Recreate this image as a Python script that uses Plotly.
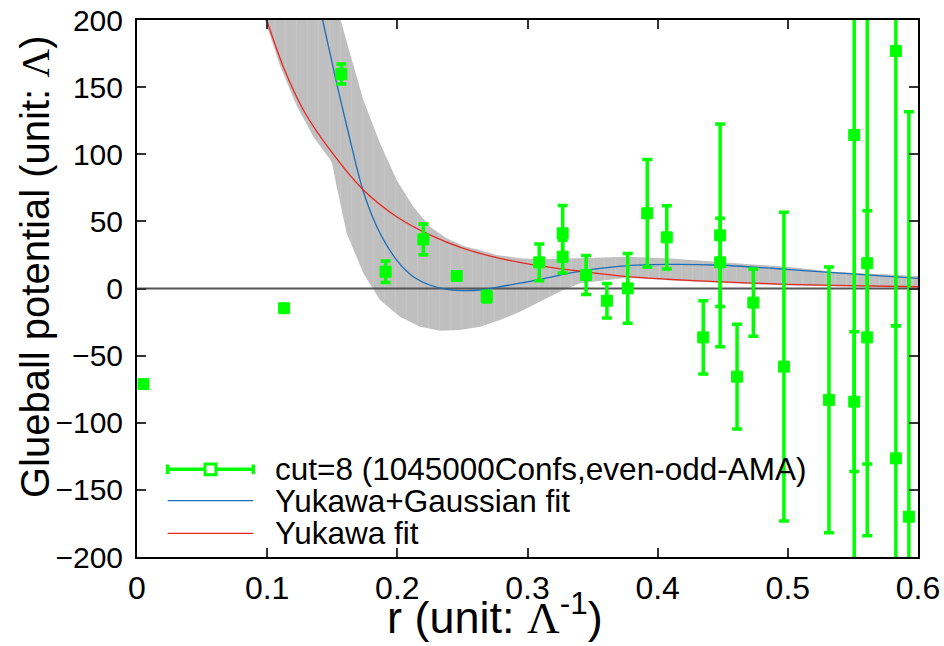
import plotly.graph_objects as go

# ---- measured glueball potential, cut=8 (1045000 configurations, even-odd AMA) ----
r_data = [0.005, 0.113, 0.157, 0.191, 0.220, 0.2456, 0.2687, 0.309, 0.327, 0.327,
          0.345, 0.361, 0.377, 0.392, 0.407, 0.435, 0.448, 0.448, 0.461, 0.4735,
          0.497, 0.5316, 0.551, 0.551, 0.561, 0.561, 0.583, 0.583, 0.593]
v_data = [-71.2, -14.7, 159.8, 12.5, 36.6, 9.3, -6.1, 19.5, 41.1, 23.7,
          10.1, -9.1, 0.1, 56.0, 38.1, -36.4, 39.6, 19.5, -65.7, -10.5,
          -58.2, -83.0, 114.3, -84.3, 18.8, -36.4, 176.9, -126.5, -170.0]
v_err = [1.5, 1.5, 7.5, 8.0, 11.5, 3.0, 4.0, 13.7, 20.8, 12.2,
         14.5, 12.8, 26.0, 40.0, 23.5, 27.3, 82.9, 32.9, 39.0, 25.0,
         115.0, 99.0, 330.0, 52.0, 203.0, 94.3, 204.6, 98.8, 301.7]

# ---- Yukawa+Gaussian fit curve ----
r_yg = [0.1426, 0.1534, 0.1637, 0.1739, 0.1867, 0.1995, 0.2123, 0.225, 0.238,
        0.2507, 0.2635, 0.2763, 0.302, 0.343, 0.3775, 0.407, 0.445, 0.499,
        0.535, 0.6]
v_yg = [200.0, 152.8, 110.6, 72.1, 41.1, 21.2, 8.8, 2.6, -0.6,
        -1.6, -1.1, 0.9, 5.3, 13.3, 17.0, 18.0, 17.5, 14.3,
        11.8, 7.6]

# ---- Yukawa fit curve ----
r_yuk = [0.0996, 0.1124, 0.1278, 0.1483, 0.1739, 0.1995, 0.225, 0.2507, 0.2763,
         0.309, 0.343, 0.377, 0.407, 0.4456, 0.4994, 0.5347, 0.6]
v_yuk = [200.0, 165.2, 133.0, 103.2, 73.4, 53.5, 39.9, 29.9, 23.0,
         17.0, 12.5, 8.8, 6.9, 5.1, 3.1, 2.4, 1.3]

# ---- combined error band of the two fits ----
band_lo_r = [0.0983, 0.1099, 0.1227, 0.1355, 0.1483, 0.1500, 0.1534, 0.1611, 0.1739,
             0.1867, 0.2021, 0.2174, 0.2328, 0.2482, 0.2635, 0.2789, 0.2943, 0.3097,
             0.325, 0.3404, 0.3762, 0.4018, 0.4456, 0.4994, 0.5347, 0.6]
band_lo_v = [200.0, 166.0, 136.0, 113.0, 96.0, 93.0, 75.8, 41.1, 11.3,
             -8.6, -21.0, -28.5, -31.4, -30.9, -28.5, -23.5, -17.3, -9.8,
             -2.3, 3.9, 8.0, 6.5, 4.3, 2.3, 1.6, 0.6]
band_hi_r = [0.6, 0.5347, 0.4994, 0.4456, 0.4072, 0.3772, 0.3426, 0.3096, 0.2942,
             0.2763, 0.2635, 0.2507, 0.2379, 0.225, 0.2123, 0.1995, 0.1867, 0.1739,
             0.1636, 0.1565]
band_hi_v = [9.3, 12.5, 16.2, 20.0, 22.5, 23.7, 22.5, 21.7, 22.5,
             25.0, 28.7, 31.7, 37.4, 46.0, 60.9, 80.8, 108.2, 140.4,
             175.2, 200.0]

legend_labels = ["cut=8 (1045000Confs,even-odd-AMA)", "Yukawa+Gaussian fit", "Yukawa fit"]

x_range = [0.0, 0.6]
y_range = [-200, 200]
x_ticks = [0.0, 0.1, 0.2, 0.3, 0.4, 0.5, 0.6]
x_tick_text = ["0", "0.1", "0.2", "0.3", "0.4", "0.5", "0.6"]
y_ticks = [-200, -150, -100, -50, 0, 50, 100, 150, 200]

GREEN = "#00ff00"
BLUE = "#1a6fb8"
RED = "#e8281e"
BAND = "#bfbfbf"
SANS = "Liberation Sans, Arial, sans-serif"
NARROW = "Liberation Sans Narrow, Liberation Sans, sans-serif"

fig = go.Figure()

# error band (drawn first, under everything), with faint vertical hatching
fig.add_trace(go.Scatter(
    x=band_lo_r + band_hi_r, y=band_lo_v + band_hi_v,
    fill="toself", fillcolor=BAND, mode="lines", line=dict(width=0),
    fillpattern=dict(shape="|", bgcolor=BAND, fgcolor="#cbcbcb", size=11, solidity=0.12),
    hoverinfo="skip", showlegend=False))

# zero line across the plotting range
fig.add_trace(go.Scatter(
    x=x_range, y=[0, 0], mode="lines", line=dict(color="#555555", width=2),
    hoverinfo="skip", showlegend=False))

fig.add_trace(go.Scatter(
    x=r_yg, y=v_yg, mode="lines", line=dict(color=BLUE, width=1.3, shape="spline", smoothing=0.8),
    name=legend_labels[1], showlegend=False))
fig.add_trace(go.Scatter(
    x=r_yuk, y=v_yuk, mode="lines", line=dict(color=RED, width=1.3, shape="spline", smoothing=0.8),
    name=legend_labels[2], showlegend=False))

fig.add_trace(go.Scatter(
    x=r_data, y=v_data, mode="markers", name=legend_labels[0], showlegend=False,
    marker=dict(symbol="square", size=11, color=GREEN, line=dict(color=GREEN, width=1)),
    error_y=dict(type="data", array=v_err, visible=True, color=GREEN, thickness=3.5, width=5),
    cliponaxis=True))

# ---- hand-placed legend in the lower-left corner of the plot ----
key_x0, key_x1 = 0.0393, 0.1489
key_xm = (key_x0 + key_x1) / 2
key_y = [0.1633, 0.1048, 0.0441]
text_x = 0.1738
shapes = []
# green key: bar with end caps and an open square
shapes.append(dict(type="line", xref="paper", yref="paper", x0=key_x0, x1=key_x1,
                   y0=key_y[0], y1=key_y[0], line=dict(color=GREEN, width=3.5)))
for kx in (key_x0, key_x1):
    shapes.append(dict(type="line", xref="paper", yref="paper", x0=kx, x1=kx,
                       y0=key_y[0] - 0.009, y1=key_y[0] + 0.009, line=dict(color=GREEN, width=3.5)))
shapes.append(dict(type="rect", xref="paper", yref="paper",
                   x0=key_xm - 0.0070, x1=key_xm + 0.0070,
                   y0=key_y[0] - 0.0100, y1=key_y[0] + 0.0100,
                   line=dict(color=GREEN, width=3), fillcolor="white"))
shapes.append(dict(type="line", xref="paper", yref="paper", x0=key_x0, x1=key_x1,
                   y0=key_y[1], y1=key_y[1], line=dict(color=BLUE, width=1.3)))
shapes.append(dict(type="line", xref="paper", yref="paper", x0=key_x0, x1=key_x1,
                   y0=key_y[2], y1=key_y[2], line=dict(color=RED, width=1.3)))

annotations = []
for label, ky in zip(legend_labels, key_y):
    annotations.append(dict(xref="paper", yref="paper", x=text_x, y=ky, text=label,
                            showarrow=False, xanchor="left", yanchor="middle",
                            font=dict(family=SANS, size=31.5, color="black")))

# axis titles
annotations.append(dict(
    xref="paper", yref="paper", x=0.458, y=-0.106,
    text='r (unit: <span style="font-family:Liberation Serif">Λ</span><sup>-1</sup>)',
    showarrow=False, xanchor="center", yanchor="middle",
    font=dict(family=NARROW, size=45, color="black")))
annotations.append(dict(
    xref="paper", yref="paper", x=-0.1306, y=0.54, textangle=-90,
    text='Glueball potential (unit: <span style="font-family:Liberation Serif">Λ</span>)',
    showarrow=False, xanchor="center", yanchor="middle",
    font=dict(family=SANS, size=40, color="black")))

fig.update_layout(
    width=944, height=646,
    margin=dict(l=137, r=26, t=20, b=89, autoexpand=False),
    paper_bgcolor="white", plot_bgcolor="white",
    shapes=shapes, annotations=annotations,
    showlegend=False,
)
fig.update_xaxes(
    range=x_range, tickvals=x_ticks, ticktext=x_tick_text,
    showgrid=False, zeroline=False, automargin=False,
    showline=True, linecolor="black", linewidth=2, mirror="ticks",
    ticks="inside", ticklen=9, tickwidth=1.5, tickcolor="#333",
    ticklabelstandoff=2,
    tickfont=dict(family=NARROW, size=32, color="black"),
)
fig.update_yaxes(
    range=y_range, tickvals=y_ticks,
    showgrid=False, zeroline=False, automargin=False,
    showline=True, linecolor="black", linewidth=2, mirror="ticks",
    ticks="inside", ticklen=9, tickwidth=1.5, tickcolor="#333",
    ticklabelstandoff=6,
    tickfont=dict(family=SANS, size=30, color="black"),
)

fig.write_html("out.html")
